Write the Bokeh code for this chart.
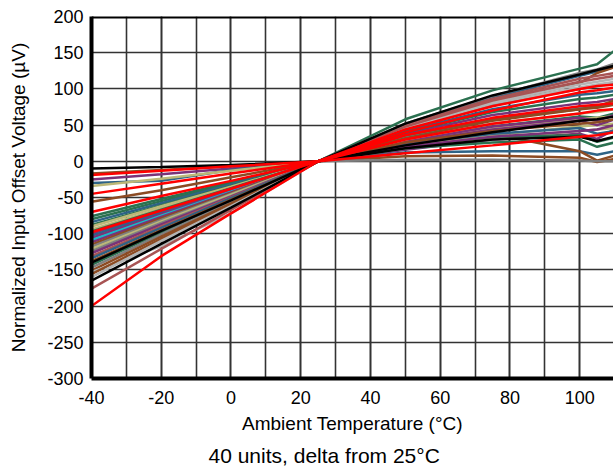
from bokeh.plotting import figure
from bokeh.models import FixedTicker, Span, Title, Range1d
from bokeh.embed import file_html
from bokeh.resources import INLINE

# Ambient temperature points (°C)
temps = [-40, -20, 0, 25, 50, 75, 100, 105, 110]

x_ticks = [-40, -20, 0, 20, 40, 60, 80, 100]
x_minor = [-40, -30, -20, -10, 0, 10, 20, 30, 40, 50, 60, 70, 80, 90, 100, 110]
y_ticks = [-300, -250, -200, -150, -100, -50, 0, 50, 100, 150, 200]

BLK = "#000000"
RED = "#ff0000"
BRN = "#8c4b23"
PUR = "#7a3278"
STB = "#2e6386"
KHK = "#bcb878"
GRN = "#2b7150"
CYN = "#1ab8c8"
GRY = "#7f7f7f"
SLV = "#b4b4b4"
RSY = "#a85454"

# Normalized offset voltage (µV) per unit, delta from 25 °C
unit_01 = [-17, -12, -7, 0, 7, 8, 5, -1, 3]
unit_02 = [-25, -18, -10, 0, 16, 30, 38, 31, 44]
unit_03 = [-30, -27, -12, 0, 12, 14, 14, 9, 14]
unit_04 = [-34, -24, -13, 0, 18, 32, 42, 44, 46]
unit_05 = [-56, -40, -22, 0, 28, 38, 14, 1, 8]
unit_06 = [-76, -52, -29, 0, 58, 98, 128, 134, 153]
unit_07 = [-80, -55, -31, 0, 30, 48, 62, 60, 66]
unit_08 = [-84, -58, -32, 0, 50, 88, 118, 124, 130]
unit_09 = [-88, -61, -34, 0, 22, 34, 36, 27, 33]
unit_10 = [-90, -62, -35, 0, 26, 45, 58, 60, 62]
unit_11 = [-94, -65, -36, 0, 20, 36, 48, 50, 52]
unit_12 = [-97, -67, -37, 0, 18, 26, 30, 20, 26]
unit_13 = [-100, -69, -38, 0, 28, 48, 60, 56, 64]
unit_14 = [-103, -71, -40, 0, 24, 38, 46, 38, 42]
unit_15 = [-106, -73, -41, 0, 20, 34, 42, 44, 50]
unit_16 = [-109, -75, -42, 0, 34, 58, 74, 76, 80]
unit_17 = [-112, -77, -43, 0, 26, 44, 56, 50, 58]
unit_18 = [-115, -79, -44, 0, 44, 78, 108, 122, 130]
unit_19 = [-118, -81, -45, 0, 52, 90, 122, 127, 135]
unit_20 = [-121, -83, -46, 0, 30, 52, 66, 68, 72]
unit_21 = [-124, -85, -48, 0, 46, 78, 100, 104, 108]
unit_22 = [-127, -87, -49, 0, 38, 64, 80, 82, 86]
unit_23 = [-131, -90, -50, 0, 50, 86, 114, 118, 122]
unit_24 = [-134, -92, -51, 0, 42, 72, 92, 94, 97]
unit_25 = [-138, -95, -53, 0, 36, 58, 72, 74, 78]
unit_26 = [-143, -98, -55, 0, 40, 68, 86, 88, 92]
unit_27 = [-147, -101, -56, 0, 2, 2, 1, 0, 0]
unit_28 = [-151, -104, -58, 0, 32, 56, 72, 76, 84]
unit_29 = [-153, -117, -72, 0, 48, 82, 106, 110, 114]
unit_30 = [-156, -107, -60, 0, 26, 42, 52, 54, 58]
unit_31 = [-160, -110, -62, 0, 46, 80, 102, 106, 110]
unit_32 = [-176, -121, -67, 0, 48, 84, 110, 114, 118]
unit_33 = [-10, -8, -5, 0, 22, 40, 56, 58, 62]
unit_34 = [-140, -96, -54, 0, 18, 30, 34, 28, 34]
unit_35 = [-165, -114, -64, 0, 52, 91, 120, 126, 132]
unit_36 = [-19, -13, -7, 0, 11, 22, 34, 36, 40]
unit_37 = [-70, -48, -27, 0, 40, 70, 95, 98, 102]
unit_38 = [-45, -31, -17, 0, 30, 52, 66, 70, 72]
unit_39 = [-98, -68, -38, 0, 44, 76, 100, 104, 106]
unit_40 = [-200, -131, -72, 0, 36, 60, 76, 78, 80]

units = [
    (unit_01, BRN), (unit_02, PUR), (unit_03, STB), (unit_04, KHK),
    (unit_05, BRN), (unit_06, GRN), (unit_07, GRN), (unit_08, STB),
    (unit_09, GRN), (unit_10, KHK), (unit_11, KHK), (unit_12, GRN),
    (unit_13, PUR), (unit_14, STB), (unit_15, PUR), (unit_16, CYN),
    (unit_17, PUR), (unit_18, BRN), (unit_19, GRY), (unit_20, KHK),
    (unit_21, GRY), (unit_22, PUR), (unit_23, RSY), (unit_24, STB),
    (unit_25, BRN), (unit_26, GRN), (unit_27, GRY), (unit_28, BRN),
    (unit_29, SLV), (unit_30, BRN), (unit_31, SLV), (unit_32, RSY),
    (unit_33, BLK), (unit_34, BLK), (unit_35, BLK), (unit_36, RED),
    (unit_37, RED), (unit_38, RED), (unit_39, RED), (unit_40, RED),
]

FONT = "Liberation Sans"

p = figure(width=613, height=471,
           x_range=Range1d(-40, 109.7), y_range=Range1d(-300, 200),
           output_backend="svg", toolbar_location=None,
           min_border_left=91, min_border_right=0,
           min_border_top=16, min_border_bottom=93)
p.outline_line_color = None
p.background_fill_color = "white"
p.border_fill_color = "white"

for vals, col in units:
    p.line(temps, vals, line_color=col, line_width=2.5)

# axes
p.xaxis.ticker = FixedTicker(ticks=x_ticks, minor_ticks=x_minor)
p.yaxis.ticker = FixedTicker(ticks=y_ticks)
p.xaxis.major_label_overrides = {t: str(t) for t in x_ticks}
p.yaxis.major_label_overrides = {t: str(t) for t in y_ticks}
for ax in (p.xaxis[0], p.yaxis[0]):
    ax.axis_line_width = 4
    ax.axis_line_color = "black"
    ax.major_tick_out = 0
    ax.major_tick_in = 0
    ax.minor_tick_out = 0
    ax.minor_tick_in = 0
    ax.major_label_text_font = FONT
    ax.major_label_text_font_size = "18px"
    ax.major_label_text_color = "black"
    ax.axis_label_text_font = FONT
    ax.axis_label_text_font_size = "19px"
    ax.axis_label_text_font_style = "normal"
    ax.axis_label_text_color = "black"

p.xaxis.axis_label = "Ambient Temperature (°C)"
p.yaxis.axis_label = "Normalized Input Offset Voltage (µV)"
p.xaxis.major_label_standoff = 12
p.xaxis.axis_label_standoff = 6
p.yaxis.major_label_standoff = 8
p.yaxis.axis_label_standoff = 15

# grid
GRID = "#333333"
p.xgrid.grid_line_color = GRID
p.xgrid.grid_line_width = 1.6
p.xgrid.minor_grid_line_color = GRID
p.xgrid.minor_grid_line_width = 1.6
p.ygrid.grid_line_color = GRID
p.ygrid.grid_line_width = 1.6

# top frame border
p.add_layout(Span(location=200, dimension="width", line_color="black", line_width=4))

sub = Title(text="40 units, delta from 25°C", text_font=FONT, text_font_size="21px",
            text_font_style="normal", text_color="black", align="left", offset=117)
p.add_layout(sub, "below")

open("out.html", "w").write(file_html(p, INLINE))
